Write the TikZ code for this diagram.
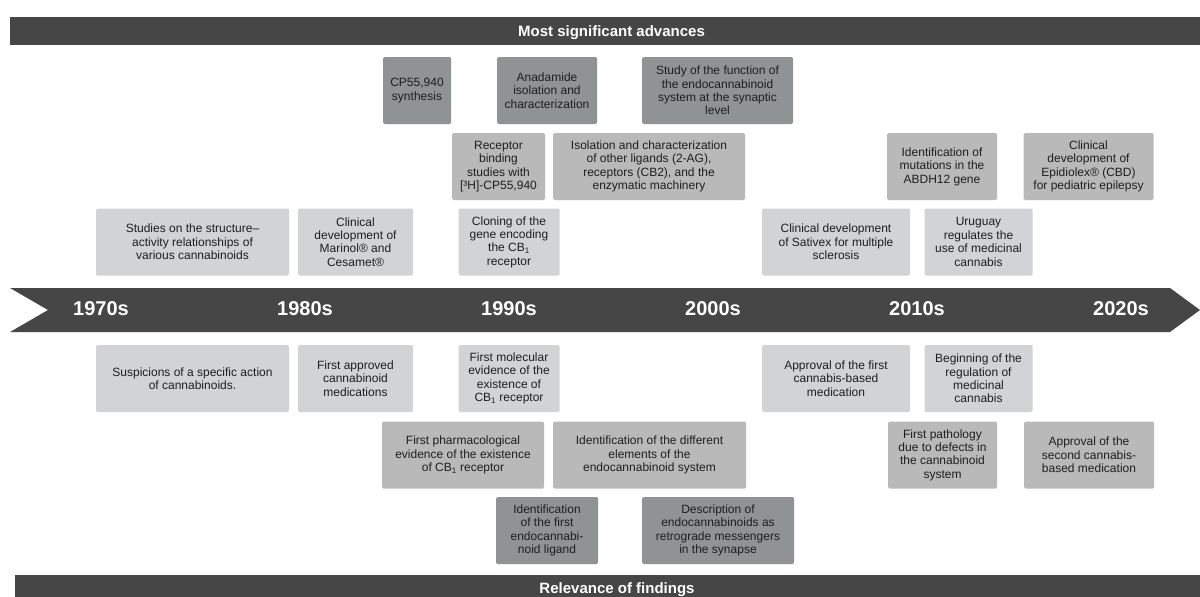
\documentclass[tikz,border=0pt]{standalone}
\usepackage{fontspec}
\setmainfont{Liberation Sans}
\definecolor{bargrey}{HTML}{464646}
\definecolor{dkbox}{HTML}{8F9394}
\definecolor{mdbox}{HTML}{B9B9B9}
\definecolor{ltbox}{HTML}{D1D3D4}
\definecolor{txtgrey}{HTML}{1E1E1E}
\begin{document}
\begin{tikzpicture}[x=1pt, y=-1pt, box/.style={rounded corners=1.5pt, minimum height=67pt, inner sep=0pt, align=center, text=txtgrey, font=\fontsize{12}{13.4}\selectfont}, dark box/.style={box, fill=dkbox}, mid box/.style={box, fill=mdbox}, light box/.style={box, fill=ltbox}, head/.style={text=white, font=\fontsize{15}{16}\selectfont\bfseries, anchor=base}, year/.style={text=white, font=\fontsize{20}{22}\selectfont\bfseries, inner sep=0pt}]
\useasboundingbox (0,0) rectangle (1200,597);
\begin{scope}
\fill[bargrey] (10,17) rectangle (1200,45);
\fill[bargrey] (15,575) rectangle (1200,597);
\fill[bargrey] (10,288) -- (1170,288) -- (1200,310) -- (1170,332) -- (10,332) -- (48,310) -- cycle;
\node[head] (adv) at (611.5,36.5) {Most significant advances};
\node[head] (rel) at (617,593) {Relevance of findings};
\foreach \yr [count=\i from 0] in {1970s,1980s,1990s,2000s,2010s,2020s}
  \node[year] (y\yr) at (101+204*\i,309) {\yr};
\end{scope}
\begin{scope}
% advances
\node[dark box, minimum width=68pt] (cp) at (417,90.5) {CP55,940\\synthesis};
\node[dark box, minimum width=100pt] (ana) at (547,90.5) {Anadamide\\isolation and\\characterization};
\node[dark box, minimum width=151pt] (syn) at (717.5,90.5) {Study of the function of\\the endocannabinoid\\system at the synaptic\\level};
\node[mid box, minimum width=93pt] (bind) at (498.5,166.5) {Receptor\\binding\\studies with\\{[³H]}-CP55,940};
\node[mid box, minimum width=192pt] (lig) at (649,166.5) {Isolation and characterization\\of other ligands (2-AG),\\receptors (CB2), and the\\enzymatic machinery};
\node[mid box, minimum width=110pt] (abdh) at (942,166.5) {Identification of\\mutations in the\\ABDH12 gene};
\node[mid box, minimum width=130pt] (epi) at (1088.5,166.5) {Clinical\\development of\\Epidiolex® (CBD)\\for pediatric epilepsy};
\node[light box, minimum width=193pt] (sar) at (192.5,242) {Studies on the structure–\\activity relationships of\\various cannabinoids};
\node[light box, minimum width=115pt] (mar) at (355.5,242) {Clinical\\development of\\Marinol® and\\Cesamet®};
\node[light box, minimum width=101pt] (clone) at (509,242) {Cloning of the\\gene encoding\\the CB\textsubscript{1}\\receptor};
\node[light box, minimum width=148pt] (sat) at (836,242) {Clinical development\\of Sativex for multiple\\sclerosis};
\node[light box, minimum width=108pt] (uru) at (978.5,242) {Uruguay\\regulates the\\use of medicinal\\cannabis};
% relevance
\node[light box, minimum width=193pt] (susp) at (192.5,378.5) {Suspicions of a specific action\\of cannabinoids.};
\node[light box, minimum width=115pt] (meds) at (355.5,378.5) {First approved\\cannabinoid\\medications};
\node[light box, minimum width=101pt] (mol) at (509,378.5) {First molecular\\evidence of the\\existence of\\CB\textsubscript{1} receptor};
\node[light box, minimum width=148pt] (med1) at (836,378.5) {Approval of the first\\cannabis-based\\medication};
\node[light box, minimum width=108pt] (reg) at (978.5,378.5) {Beginning of the\\regulation of\\medicinal\\cannabis};
\node[mid box, minimum width=162pt] (pharm) at (463,455) {First pharmacological\\evidence of the existence\\of CB\textsubscript{1} receptor};
\node[mid box, minimum width=193pt] (elem) at (649.5,455) {Identification of the different\\elements of the\\endocannabinoid system};
\node[mid box, minimum width=109pt] (path) at (942.5,455) {First pathology\\due to defects in\\the cannabinoid\\system};
\node[mid box, minimum width=130pt] (med2) at (1089,455) {Approval of the\\second cannabis-\\based medication};
\node[dark box, minimum width=102pt] (ligand) at (547,530.5) {Identification\\of the first\\endocannabi-\\noid ligand};
\node[dark box, minimum width=152pt] (retro) at (718,530.5) {Description of\\endocannabinoids as\\retrograde messengers\\in the synapse};
%\node[light box, minimum width=pt] () at (,) {};
\end{scope}
\end{tikzpicture}
\end{document}
